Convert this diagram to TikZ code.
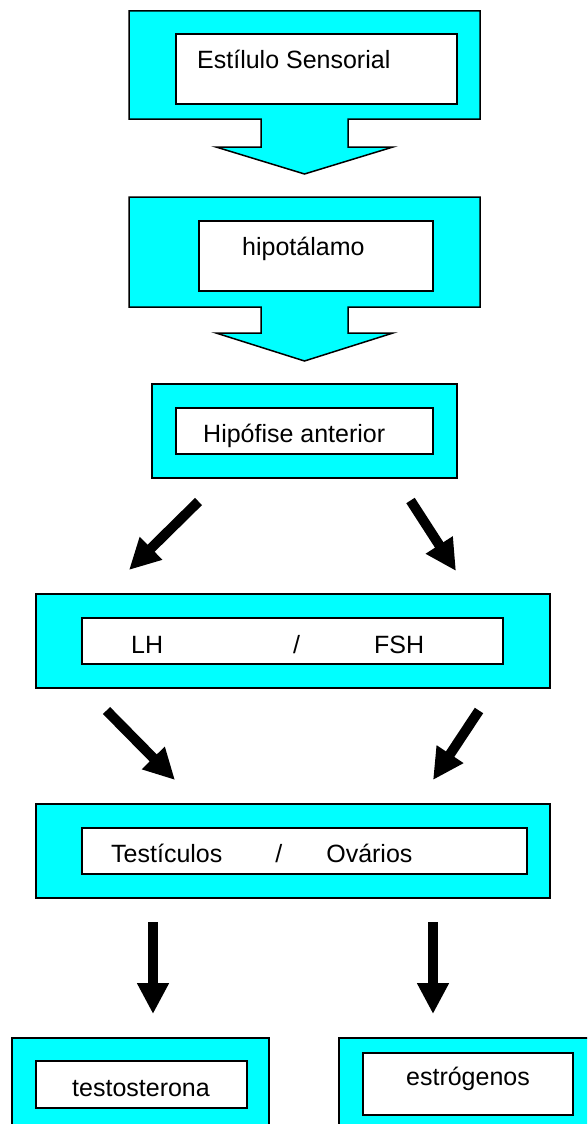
\documentclass[tikz,border=0pt]{standalone}
\usepackage{fontspec}
\setmainfont{Liberation Sans}
\usetikzlibrary{arrows.meta}
\definecolor{boxcyan}{RGB}{0,255,255}
\begin{document}
\begin{tikzpicture}[x=1pt,y=-1pt,
  outerbox/.style={draw=black, line width=1.5pt, fill=boxcyan, rectangle, inner sep=0pt, outer sep=0pt},
  innerbox/.style={draw=black, line width=1.5pt, fill=white, rectangle, inner sep=0pt, outer sep=0pt},
  txt/.style={inner sep=0pt, font=\fontsize{25}{30}\selectfont},
  fatarrow/.style={line width=10pt, -{Triangle[length=31pt,width=30pt]}},
  callout/.style={draw=black, line width=1.5pt, fill=boxcyan, line join=miter}]
\useasboundingbox (0,0) rectangle (587,1124);
\clip (0,0) rectangle (587,1124);

% callout 1
\draw[callout] (129,11) -- (480,11) -- (480,119) -- (348,119) -- (348,147) -- (393,147)
  -- (304.5,174) -- (216,147) -- (261,147) -- (261,119) -- (129,119) -- cycle;
\node[innerbox, minimum width=281pt, minimum height=70pt] (in1) at (316.5,69) {};
\node[txt, anchor=base west] (t1) at (197,68) {Estílulo Sensorial};

% callout 2
\draw[callout] (129,197) -- (480,197) -- (480,307) -- (348,307) -- (348,333) -- (393,333)
  -- (304.5,361) -- (216,333) -- (261,333) -- (261,307) -- (129,307) -- cycle;
\node[innerbox, minimum width=234pt, minimum height=70pt] (in2) at (316,256) {};
\node[txt, anchor=base west] (t2) at (242,255) {hipotálamo};

% Hipofise
\node[outerbox, minimum width=305pt, minimum height=94pt] (out3) at (304.5,431) {};
\node[innerbox, minimum width=257pt, minimum height=46pt] (in3) at (304.5,431) {};
\node[txt, anchor=base west] (t3) at (203,442) {Hipófise anterior};

% LH / FSH
\node[outerbox, minimum width=514pt, minimum height=94pt] (out4) at (293,641) {};
\node[innerbox, minimum width=421pt, minimum height=46pt] (in4) at (292.5,641) {};
\node[txt, anchor=base west] (t4) at (131,653) {LH\hspace{130pt}/\hspace{74pt}FSH};

% Testiculos / Ovarios
\node[outerbox, minimum width=514pt, minimum height=94pt] (out5) at (293,851) {};
\node[innerbox, minimum width=445pt, minimum height=46pt] (in5) at (304.5,851) {};
\node[txt, anchor=base west] (t5) at (111,862) {Testículos\hspace{53pt}/\hspace{44pt}Ovários};

% testosterona
\node[outerbox, minimum width=257pt, minimum height=102pt] (out6) at (140.5,1089) {};
\node[innerbox, minimum width=211pt, minimum height=47pt] (in6) at (141.5,1084.5) {};
\node[txt, anchor=base] (t6) at (141,1096) {testosterona};

% estrogenos
\node[outerbox, minimum width=261pt, minimum height=102pt] (out7) at (469.5,1089) {};
\node[innerbox, minimum width=210pt, minimum height=62pt] (in7) at (468,1084) {};
\node[txt, anchor=base] (t7) at (468,1085) {estrógenos};

% arrows
\coordinate (a1s) at (198.5,501.5); \coordinate (a1e) at (129,570);
\coordinate (a2s) at (410.5,500.5); \coordinate (a2e) at (456,571);
\coordinate (a3s) at (106.5,710.5); \coordinate (a3e) at (175,780);
\coordinate (a4s) at (479,710.5);   \coordinate (a4e) at (433,780);
\coordinate (a5s) at (153,922);     \coordinate (a5e) at (153,1014);
\coordinate (a6s) at (433,922);     \coordinate (a6e) at (433,1014);
\draw[fatarrow] (a1s) -- (a1e);
\draw[fatarrow] (a2s) -- (a2e);
\draw[fatarrow] (a3s) -- (a3e);
\draw[fatarrow] (a4s) -- (a4e);
\draw[fatarrow] (a5s) -- (a5e);
\draw[fatarrow] (a6s) -- (a6e);
\end{tikzpicture}
\end{document}
